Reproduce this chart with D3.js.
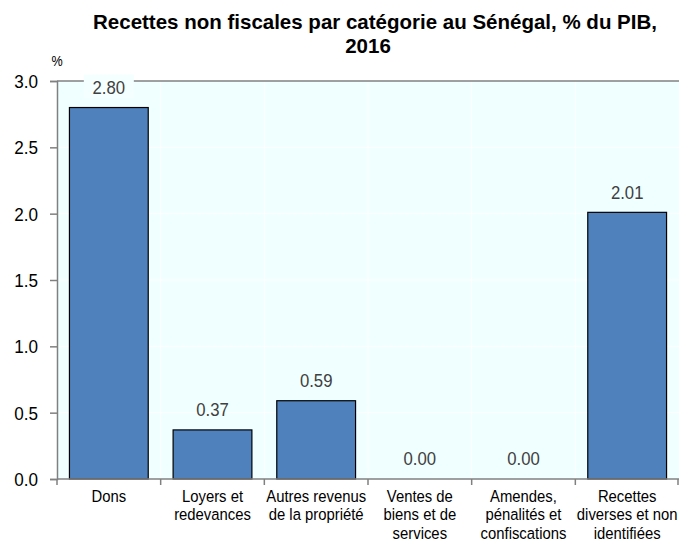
<!DOCTYPE html>
<html><head><meta charset="utf-8">
<script src="https://cdn.jsdelivr.net/npm/d3@7"></script>
<style>body{margin:0;background:#fff}</style></head>
<body><svg id="c" width="679" height="546"></svg>
<script>
const categories = [
  ["Dons"],
  ["Loyers et","redevances"],
  ["Autres revenus","de la propriété"],
  ["Ventes de","biens et de","services"],
  ["Amendes,","pénalités et","confiscations"],
  ["Recettes","diverses et non","identifiées"]
];
const values = [2.80, 0.37, 0.59, 0.00, 0.00, 2.01];
const yTicks = [0, 0.5, 1.0, 1.5, 2.0, 2.5, 3.0];
const titleLines = ["Recettes non fiscales par catégorie au Sénégal, % du PIB,", "2016"];

const svg = d3.select("#c");
const font = "'Liberation Sans',Arial,sans-serif";
const m = {l:57, r:0, t:81, b:67};
const W = 679, H = 546;
const idx = d3.range(categories.length);
const x = d3.scaleBand().domain(idx).range([m.l, W - m.r]).paddingInner(0.24).paddingOuter(0.12);
const y = d3.scaleLinear().domain([0, 3]).range([H - m.b, m.t]);

// plot background
svg.append("rect").attr("x", m.l).attr("y", m.t).attr("width", W - m.r - m.l).attr("height", y(0) - m.t).attr("fill", "#F0FFFF");

// gridlines
svg.append("g").selectAll("line").data(yTicks.filter(d => d > 0 && d < 3)).join("line")
  .attr("x1", m.l).attr("x2", W).attr("y1", d => y(d)).attr("y2", d => y(d))
  .attr("stroke", "#fff").attr("stroke-width", 1);
const bounds = d3.range(1, categories.length).map(i => m.l + i * (W - m.r - m.l) / categories.length);
svg.append("g").selectAll("line").data(bounds).join("line")
  .attr("x1", d => d).attr("x2", d => d).attr("y1", m.t).attr("y2", y(0))
  .attr("stroke", "#fff").attr("stroke-width", 1);

// top gridline (3.0) gray
svg.append("line").attr("x1", m.l).attr("x2", W).attr("y1", y(3)).attr("y2", y(3)).attr("stroke", "#808080").attr("stroke-width", 1.5);

// bars
svg.append("g").selectAll("rect").data(idx).join("rect")
  .attr("x", i => x(i)).attr("width", x.bandwidth())
  .attr("y", i => y(values[i])).attr("height", i => y(0) - y(values[i]))
  .attr("fill", "#4F81BD").attr("stroke", "#000").attr("stroke-width", 1.2)
  .attr("display", i => values[i] > 0 ? null : "none");

// y axis
const yAxis = svg.append("g").attr("transform", `translate(${m.l},0)`)
  .call(d3.axisLeft(y).tickValues(yTicks).tickFormat("").tickSize(7));
yAxis.select(".domain").attr("stroke", "#808080").attr("stroke-width", 1.5);
yAxis.selectAll(".tick line").attr("stroke", "#808080").attr("stroke-width", 1.5);
svg.append("g").selectAll("text").data(yTicks).join("text")
  .attr("transform", d => `translate(38,${y(d)}) scale(0.9,1)`)
  .attr("text-anchor", "end").attr("dy", "0.36em")
  .attr("font-family", font).attr("font-size", 19).attr("fill", "#000")
  .text(d3.format(".1f"));

// x axis
const xAxisG = svg.append("g");
xAxisG.append("line").attr("x1", m.l).attr("x2", W).attr("y1", y(0)).attr("y2", y(0)).attr("stroke", "#808080").attr("stroke-width", 1.5);
xAxisG.selectAll("line.t").data([m.l, ...bounds, W - 1]).join("line").attr("class","t")
  .attr("x1", d => d).attr("x2", d => d).attr("y1", y(0)).attr("y2", y(0) + 6)
  .attr("stroke", "#808080").attr("stroke-width", 1.5);
const lbl = xAxisG.selectAll("text").data(idx).join("text")
  .attr("transform", i => `translate(${x(i) + x.bandwidth() / 2},${y(0) + 23}) scale(0.9,1)`)
  .attr("text-anchor", "middle").attr("font-family", font).attr("font-size", 16.5).attr("fill", "#000");
lbl.selectAll("tspan").data(i => categories[i]).join("tspan")
  .attr("x", 0).attr("dy", (d, j) => j === 0 ? 0 : 18.5).text(d => d);

// value labels
const vl = svg.append("g").selectAll("g").data(idx).join("g")
  .attr("transform", i => `translate(${x(i) + x.bandwidth() / 2},${y(values[i]) - 20})`);
vl.append("rect").attr("x", -25).attr("y", -13).attr("width", 50).attr("height", 24)
  .attr("fill", "#F4FFFF").attr("display", i => y(values[i]) - 20 - 13 < m.t + 2 ? null : "none");
vl.append("text").attr("text-anchor", "middle").attr("dy", "0.36em").attr("transform", "scale(0.93,1)")
  .attr("font-family", font).attr("font-size", 18).attr("fill", "#404040")
  .text(i => values[i].toFixed(2));

// % label
svg.append("text").attr("transform", "translate(57,66) scale(0.9,1)").attr("text-anchor", "middle")
  .attr("font-family", font).attr("font-size", 14).text("%");

// title
svg.append("text").attr("transform", "translate(375,29)").attr("text-anchor", "middle")
  .attr("font-family", font).attr("font-weight", "bold").attr("font-size", 20.5)
  .selectAll("tspan").data(titleLines).join("tspan").attr("x", (d, j) => j ? -7 : 0).attr("dy", (d, j) => j ? 24 : 0).text(d => d);
</script></body></html>
